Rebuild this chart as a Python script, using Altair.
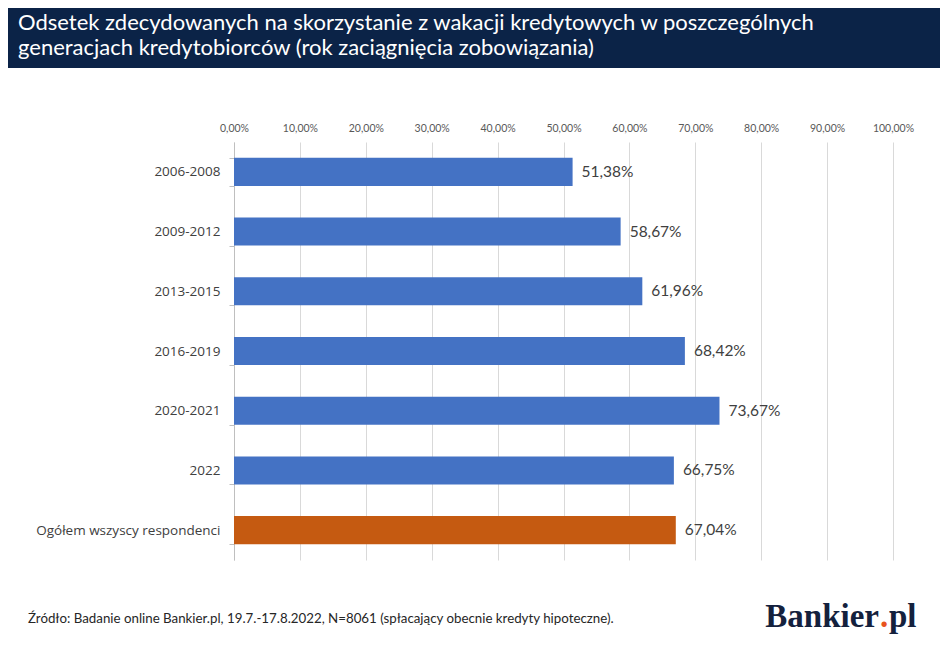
import pandas as pd
import altair as alt

# chart data
categories = ["2006-2008", "2009-2012", "2013-2015", "2016-2019", "2020-2021", "2022",
              "Ogółem wszyscy respondenci"]
shares = [51.38, 58.67, 61.96, 68.42, 73.67, 66.75, 67.04]
groups = ["generacja"] * 6 + ["ogółem"]
x_ticks = [0, 10, 20, 30, 40, 50, 60, 70, 80, 90, 100]

title_lines = [
    "Odsetek zdecydowanych na skorzystanie z wakacji kredytowych w poszczególnych",
    "generacjach kredytobiorców (rok zaciągnięcia zobowiązania)",
]
source_note = "Źródło: Badanie online Bankier.pl, 19.7.-17.8.2022, N=8061 (spłacający obecnie kredyty hipoteczne)."

BLUE = "#4472c4"
ORANGE = "#c55a11"
NAVY = "#0b2347"
FONT = "Lato"


def main():
    df = pd.DataFrame({"category": categories, "share": shares, "group": groups})
    df["label"] = [f"{v:.2f}".replace(".", ",") + "%" for v in shares]

    y_enc = alt.Y(
        "category:N",
        sort=categories,
        scale=alt.Scale(paddingInner=0.53, paddingOuter=0.265),
        axis=alt.Axis(
            title=None, tickBand="extent", domainColor="#bfbfbf", tickColor="#bfbfbf",
            tickSize=5, labelPadding=9, labelFont="Open Sans", labelFontSize=13.5,
            labelColor="#404040", labelLimit=300, grid=False,
        ),
    )
    x_enc = alt.X(
        "share:Q",
        scale=alt.Scale(domain=[0, 100], nice=False),
        axis=alt.Axis(
            orient="top", values=x_ticks, title=None, domain=False, ticks=False,
            grid=True, gridColor="#d9d9d9", labelColor="#595959", labelFont=FONT,
            labelFontSize=10.5, labelPadding=9, labelFlush=False, labelOverlap=False,
            labelExpr="replace(format(datum.value, '.2f'), '.', ',') + '%'",
        ),
    )

    bars = alt.Chart(df).mark_bar().encode(
        x=x_enc,
        y=y_enc,
        color=alt.Color("group:N", scale=alt.Scale(domain=["generacja", "ogółem"], range=[BLUE, ORANGE]),
                        legend=None),
    )
    values = alt.Chart(df).mark_text(
        align="left", baseline="middle", dx=9, font=FONT, fontSize=15.5, color="#404040"
    ).encode(x="share:Q", y=alt.Y("category:N", sort=categories), text="label:N")

    one = pd.DataFrame({"k": [0]})
    header = alt.Chart(one).mark_rect(color=NAVY).encode(
        x=alt.value(-226), x2=alt.value(706), y=alt.value(-134), y2=alt.value(-74)
    )
    title1 = alt.Chart(one).mark_text(
        align="left", baseline="alphabetic", font=FONT, fontSize=22, color="white"
    ).encode(x=alt.value(-216), y=alt.value(-112), text=alt.value(title_lines[0]))
    title2 = alt.Chart(one).mark_text(
        align="left", baseline="alphabetic", font=FONT, fontSize=22, color="white"
    ).encode(x=alt.value(-216), y=alt.value(-87), text=alt.value(title_lines[1]))

    note = alt.Chart(one).mark_text(
        align="left", baseline="alphabetic", font=FONT, fontSize=13.3, color="#262626"
    ).encode(x=alt.value(-206), y=alt.value(481), text=alt.value(source_note))

    # Bankier.pl logo
    logo_a = alt.Chart(one).mark_text(
        align="right", baseline="alphabetic", font="Liberation Serif", fontWeight="bold",
        fontSize=33, color="#14213d"
    ).encode(x=alt.value(645), y=alt.value(485), text=alt.value("Bankier"))
    logo_dot = alt.Chart(one).mark_text(
        align="left", baseline="alphabetic", font="Liberation Serif", fontWeight="bold",
        fontSize=33, color="#e8531e"
    ).encode(x=alt.value(646), y=alt.value(485), text=alt.value("."))
    logo_b = alt.Chart(one).mark_text(
        align="left", baseline="alphabetic", font="Liberation Serif", fontWeight="bold",
        fontSize=33, color="#14213d"
    ).encode(x=alt.value(655), y=alt.value(485), text=alt.value("pl"))

    chart = alt.layer(
        bars, values, header, title1, title2, note, logo_a, logo_dot, logo_b
    ).properties(
        width=659,
        height=418,
        padding={"left": 226, "top": 134, "right": 47, "bottom": 80},
        autosize=alt.AutoSizeParams(type="none"),
        background="white",
    ).configure_view(stroke=None)

    chart.save("out.html", embed_options={"renderer": "svg", "actions": False})


if __name__ == "__main__":
    main()
